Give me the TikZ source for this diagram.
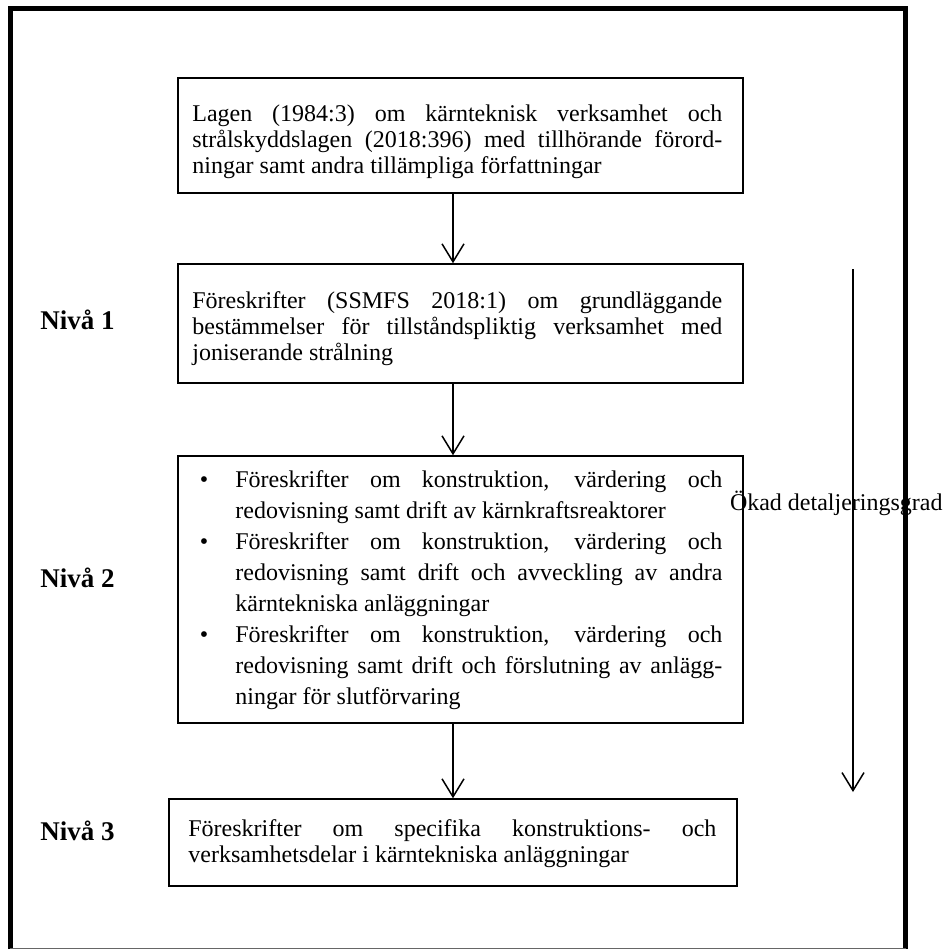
\documentclass[tikz,border=0pt]{standalone}
\usepackage{fontspec}
\setmainfont{Liberation Serif}
\usetikzlibrary{arrows.meta,fit}
\begin{document}
\begin{tikzpicture}[x=0.5pt,y=-0.5pt,
  box/.style={draw, line width=0.75pt, inner sep=0pt},
  txt/.style={anchor=base west, inner sep=0pt, text width=#1, align=justify,
    font=\fontsize{12}{13}\selectfont,
    execute at begin node={\tolerance=10000\hyphenpenalty=10000\exhyphenpenalty=10000}},
  bultxt/.style={anchor=base west, inner sep=0pt, text width=#1, align=justify,
    font=\fontsize{12}{15.5}\selectfont,
    execute at begin node={\tolerance=10000\hyphenpenalty=10000\exhyphenpenalty=10000}},
  lvl/.style={anchor=base west, inner sep=0pt, font=\fontsize{13.5}{15}\selectfont\bfseries},
  flow/.style={line width=0.75pt, -{Straight Barb[length=9pt,width=11pt,line width=0.75pt]}},
  frame/.style={line width=2.5pt, line join=miter},
]
\useasboundingbox (0,0) rectangle (948,950);
\fill[white] (0,0) rectangle (948,950);

% outer frame
\draw[frame] (10,949) -- (10,8) -- (905.5,8) -- (905.5,949);
\draw[line width=0.5pt, black!60] (10,948.5) -- (905.5,948.5);

% boxes
\coordinate (b1nw) at (178,78);  \coordinate (b1se) at (743,193);
\coordinate (b2nw) at (178,264); \coordinate (b2se) at (743,383);
\coordinate (b3nw) at (178,456); \coordinate (b3se) at (743,723);
\coordinate (b4nw) at (169,799); \coordinate (b4se) at (737,886);
\node[box, fit=(b1nw)(b1se)] (b1) {};
\node[box, fit=(b2nw)(b2se)] (b2) {};
\node[box, fit=(b3nw)(b3se)] (b3) {};
\node[box, fit=(b4nw)(b4se)] (b4) {};

% texts
\newcommand{\bul}{\noindent\hangindent=21.5pt\hangafter=0\llap{\textbullet\hspace{13.5pt}}}
\node[txt=265pt] (t1) at (192,121) {Lagen (1984:3) om kärnteknisk verksamhet och\linebreak strålskyddslagen (2018:396) med tillhörande förord-\linebreak ningar samt andra tillämpliga författningar\par};
\node[txt=265pt] (t2) at (192,308) {Föreskrifter (SSMFS 2018:1) om grundläggande\linebreak bestämmelser för tillståndspliktig verksamhet med\linebreak joniserande strålning\par};
\node[bultxt=265pt] (t3) at (192,487) {%
\bul Föreskrifter om konstruktion, värdering och\linebreak redovisning samt drift av kärnkraftsreaktorer\par
\bul Föreskrifter om konstruktion, värdering och\linebreak redovisning samt drift och avveckling av andra\linebreak kärntekniska anläggningar\par
\bul Föreskrifter om konstruktion, värdering och\linebreak redovisning samt drift och förslutning av anlägg-\linebreak ningar för slutförvaring\par};
\node[txt=264pt] (t4) at (188,836) {Föreskrifter om specifika konstruktions- och\linebreak verksamhetsdelar i kärntekniska anläggningar\par};

% level labels
\node[lvl] (n1) at (40,329) {Nivå 1};
\node[lvl] (n2) at (40,587) {Nivå 2};
\node[lvl] (n3) at (40,840) {Nivå 3};

% connectors
\coordinate (ax) at (453,0);
\draw[flow] (ax |- b1.south) -- (ax |- b2.north);
\draw[flow] (ax |- b2.south) -- (ax |- b3.north);
\draw[flow] (ax |- b3.south) -- (ax |- b4.north);

% detail arrow
\coordinate (r1) at (853,269);
\coordinate (r2) at (853,792);
\draw[flow] (r1) -- (r2);
\node[anchor=base east, inner sep=0pt, font=\fontsize{12}{13}\selectfont] (okad) at (943,510) {Ökad detaljeringsgrad};
\end{tikzpicture}
\end{document}
